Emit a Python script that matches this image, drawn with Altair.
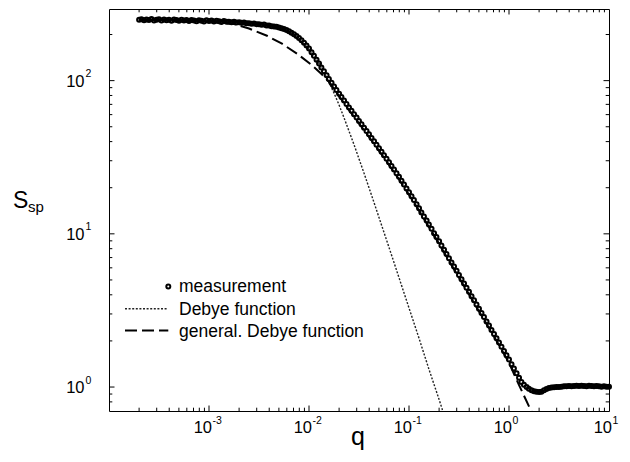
import altair as alt
import pandas as pd

FONT = "Liberation Sans"
W, H = 500, 402

# ---- measured structure factor S_sp(q), split by q range ----
q_low = [2.00e-4, 2.11e-4, 2.24e-4, 2.37e-4, 2.51e-4, 2.66e-4, 2.82e-4, 2.99e-4,
         3.16e-4, 3.35e-4, 3.55e-4, 3.76e-4, 3.98e-4, 4.22e-4, 4.47e-4, 4.73e-4,
         5.01e-4, 5.31e-4, 5.62e-4, 5.96e-4, 6.31e-4, 6.68e-4, 7.08e-4, 7.50e-4,
         7.94e-4, 8.41e-4, 8.91e-4, 9.44e-4, 1.00e-3, 1.06e-3, 1.12e-3, 1.19e-3,
         1.26e-3, 1.33e-3, 1.41e-3, 1.50e-3]
S_low = [250, 252, 248, 251, 249, 253, 247, 250, 252, 247, 251, 248, 250, 246, 251, 249,
         246, 250, 247, 249, 245, 249, 247, 244, 248, 246, 243, 248, 245, 247, 243, 246,
         244, 241, 245, 242]

q_knee = [1.58e-3, 1.68e-3, 1.78e-3, 1.88e-3, 2.00e-3, 2.11e-3, 2.24e-3, 2.37e-3,
          2.51e-3, 2.66e-3, 2.82e-3, 2.99e-3, 3.16e-3, 3.35e-3, 3.55e-3, 3.76e-3,
          3.98e-3, 4.22e-3, 4.47e-3, 4.73e-3, 5.01e-3, 5.31e-3, 5.62e-3, 5.96e-3,
          6.31e-3, 6.68e-3, 7.08e-3, 7.50e-3, 7.94e-3, 8.41e-3, 8.91e-3, 9.44e-3,
          1.00e-2, 1.06e-2, 1.12e-2, 1.19e-2, 1.26e-2, 1.33e-2, 1.41e-2, 1.50e-2]
S_knee = [242.1, 240.5, 242.0, 239.4, 240.9, 238.3, 239.5, 236.7, 237.1, 235.0,
          236.2, 233.4, 233.3, 231.3, 232.2, 229.1, 229.1, 226.5, 225.9, 224.4,
          222.3, 219.8, 217.3, 213.8, 209.9, 205.6, 200.9, 195.4, 189.7, 183.2,
          176.6, 169.4, 162.2, 153.5, 145.2, 137.1, 129.4, 121.9, 115.1, 108.4]

q_mid = [1.58e-2, 1.68e-2, 1.78e-2, 1.88e-2, 2.00e-2, 2.11e-2, 2.24e-2, 2.37e-2,
         2.51e-2, 2.66e-2, 2.82e-2, 2.99e-2, 3.16e-2, 3.35e-2, 3.55e-2, 3.76e-2,
         3.98e-2, 4.22e-2, 4.47e-2, 4.73e-2, 5.01e-2, 5.31e-2, 5.62e-2, 5.96e-2,
         6.31e-2, 6.68e-2, 7.08e-2, 7.50e-2, 7.94e-2, 8.41e-2, 8.91e-2, 9.44e-2,
         0.100, 0.106, 0.112, 0.119, 0.126, 0.133, 0.141, 0.150,
         0.158, 0.168, 0.178, 0.188, 0.200, 0.211, 0.224, 0.237,
         0.251, 0.266, 0.282, 0.299, 0.316, 0.335, 0.355, 0.376,
         0.398, 0.422, 0.447, 0.473, 0.501, 0.531, 0.562, 0.596,
         0.631, 0.668, 0.708, 0.750, 0.794, 0.841, 0.891, 0.944]
S_mid = [102.3, 96.8, 91.7, 86.9, 82.2, 78.1, 74.1, 70.4, 66.8, 63.5,
         60.4, 57.4, 54.6, 51.9, 49.3, 46.9, 44.6, 42.3, 40.2, 38.2,
         36.2, 34.4, 32.6, 30.9, 29.3, 27.7, 26.3, 24.9, 23.6, 22.2,
         21.0, 19.8, 18.7, 17.6, 16.6, 15.6, 14.7, 13.8, 13.0, 12.2,
         11.5, 10.8, 10.1, 9.52, 8.93, 8.39, 7.87, 7.39, 6.93, 6.51,
         6.11, 5.74, 5.38, 5.05, 4.74, 4.45, 4.18, 3.92, 3.68, 3.46,
         3.24, 3.04, 2.86, 2.68, 2.52, 2.36, 2.22, 2.08, 1.95, 1.83,
         1.72, 1.61]

q_high = [1.00, 1.06, 1.12, 1.19, 1.26, 1.33, 1.41, 1.50,
          1.58, 1.68, 1.78, 1.88, 2.00, 2.11, 2.24, 2.37,
          2.51, 2.66, 2.82, 2.99, 3.16, 3.35, 3.55, 3.76,
          3.98, 4.22, 4.47, 4.73, 5.01, 5.31, 5.62, 5.96,
          6.31, 6.68, 7.08, 7.50, 7.94, 8.41, 8.91, 9.44, 10.0]
S_high = [1.51, 1.41, 1.32, 1.23, 1.15, 1.08, 1.035, 1.00, 0.973, 0.953,
          0.940, 0.931, 0.927, 0.933, 0.951, 0.971, 0.986, 0.993, 0.998, 1.000,
          1.00, 1.005, 1.01, 1.01, 1.015, 1.01, 1.015, 1.02, 1.015, 1.02,
          1.015, 1.01, 1.02, 1.015, 1.01, 1.015, 1.01, 1.005, 1.01, 1.005, 1.005]

# ---- Debye function ----
debye_q = [2.00e-4, 5.01e-4, 1.00e-3, 1.78e-3, 3.16e-3, 3.98e-3, 5.01e-3, 6.31e-3,
           7.94e-3, 8.91e-3, 1.00e-2, 1.12e-2, 1.26e-2, 1.41e-2, 1.58e-2, 1.78e-2,
           2.00e-2, 2.24e-2, 2.51e-2, 2.82e-2, 3.16e-2, 3.55e-2, 3.98e-2, 4.47e-2,
           5.01e-2, 6.31e-2, 7.94e-2, 0.100, 0.126, 0.158, 0.200, 0.219]
debye_S = [250.0, 249.7, 248.7, 246.1, 237.9, 231.2, 221.1, 206.5,
           186.4, 173.9, 160.2, 145.2, 129.4, 113.4, 97.7, 82.9,
           69.3, 57.2, 46.9, 38.2, 30.9, 24.9, 20.0, 16.0,
           12.8, 8.16, 5.18, 3.28, 2.08, 1.31, 0.829, 0.689]

# ---- generalized Debye function ----
gen_q = [2.00e-4, 3.98e-4, 7.94e-4, 1.26e-3, 1.78e-3, 2.51e-3, 3.80e-3, 5.37e-3,
         7.59e-3, 1.07e-2, 1.35e-2, 1.62e-2, 2.00e-2, 2.51e-2, 3.16e-2, 3.98e-2,
         5.01e-2, 6.31e-2, 7.94e-2, 0.100, 0.126, 0.158, 0.200, 0.251,
         0.316, 0.398, 0.501, 0.631, 0.794, 1.00, 1.26, 1.58, 1.78]
gen_S = [250.0, 248.9, 246.0, 241.0, 233.9, 218.8, 196.3, 174.2,
         150.0, 126.2, 109.6, 96.6, 79.2, 64.3, 52.6, 42.9,
         34.9, 28.2, 22.7, 18.0, 14.2, 11.1, 8.60, 6.67,
         5.18, 4.03, 3.12, 2.43, 1.88, 1.44, 1.03, 0.750, 0.640]

# ---- axis ticks and labels ----
x_major = [1e-3, 1e-2, 1e-1, 1.0]
x_minor = [2e-4, 3e-4, 4e-4, 5e-4, 6e-4, 7e-4, 8e-4, 9e-4,
           2e-3, 3e-3, 4e-3, 5e-3, 6e-3, 7e-3, 8e-3, 9e-3,
           2e-2, 3e-2, 4e-2, 5e-2, 6e-2, 7e-2, 8e-2, 9e-2,
           0.2, 0.3, 0.4, 0.5, 0.6, 0.7, 0.8, 0.9,
           2, 3, 4, 5, 6, 7, 8, 9]
x_label_at = [1e-3, 1e-2, 1e-1, 1.0, 10.0]
x_label_exp = ["-3", "-2", "-1", "0", "1"]

y_major = [1.0, 10.0, 100.0]
y_minor = [0.8, 0.9, 2, 3, 4, 5, 6, 7, 8, 9,
           20, 30, 40, 50, 60, 70, 80, 90, 200]
y_label_at = [1.0, 10.0, 100.0]
y_label_exp = ["0", "1", "2"]

legend_labels = ["measurement", "Debye function", "general. Debye function"]

xscale = alt.Scale(type="log", domain=[1e-4, 10], nice=False)
yscale = alt.Scale(type="log", domain=[0.6975, 293.5], nice=False)

meas_df = pd.DataFrame({"q": q_low + q_knee + q_mid + q_high,
                        "S": S_low + S_knee + S_mid + S_high})
debye_df = pd.DataFrame({"q": debye_q, "S": debye_S})
gen_df = pd.DataFrame({"q": gen_q, "S": gen_S})

X = alt.X("q:Q", scale=xscale, axis=None)
Y = alt.Y("S:Q", scale=yscale, axis=None)

# open rings: overlapping neighbours merge into a solid band where dense
POINT_STYLE = dict(shape="circle", size=16, stroke="black", strokeWidth=2,
                   filled=False, opacity=1)

debye_line = alt.Chart(debye_df).mark_line(
    color="#222222", strokeWidth=1.4, strokeDash=[2, 1.6], clip=True
).encode(x=X, y=Y)

gen_line = alt.Chart(gen_df).mark_line(
    color="black", strokeWidth=2, strokeDash=[12, 5], clip=True
).encode(x=X, y=Y)

points = alt.Chart(meas_df).mark_point(**POINT_STYLE).encode(x=X, y=Y)

# inward-pointing ticks on all four sides
def xticks(vals, length):
    d = pd.DataFrame({"v": vals})
    xv = alt.X("v:Q", scale=xscale, axis=None)
    bottom = alt.Chart(d).mark_rule(color="black", strokeWidth=1).encode(
        x=xv, y=alt.value(H), y2=alt.value(H - length))
    top = alt.Chart(d).mark_rule(color="black", strokeWidth=1).encode(
        x=xv, y=alt.value(0), y2=alt.value(length))
    return [bottom, top]


def yticks(vals, length):
    d = pd.DataFrame({"v": vals})
    yv = alt.Y("v:Q", scale=yscale, axis=None)
    left = alt.Chart(d).mark_rule(color="black", strokeWidth=1).encode(
        y=yv, x=alt.value(0), x2=alt.value(length))
    right = alt.Chart(d).mark_rule(color="black", strokeWidth=1).encode(
        y=yv, x=alt.value(W), x2=alt.value(W - length))
    return [left, right]


ticks = xticks(x_major, 5.5) + xticks(x_minor, 3.3) + yticks(y_major, 5.5) + yticks(y_minor, 3.3)

# tick labels written as 10 with a raised exponent
xl_df = pd.DataFrame({"v": x_label_at, "e": x_label_exp})
x_base = alt.Chart(xl_df).mark_text(
    font=FONT, fontSize=16.5, align="right", baseline="alphabetic", dx=3
).encode(x=alt.X("v:Q", scale=xscale, axis=None), y=alt.value(H + 21.5),
         text=alt.value("10"))
x_exp = alt.Chart(xl_df).mark_text(
    font=FONT, fontSize=10.5, align="left", baseline="alphabetic", dx=3.5
).encode(x=alt.X("v:Q", scale=xscale, axis=None), y=alt.value(H + 12.5),
         text="e:N")

yl_df = pd.DataFrame({"v": y_label_at, "e": y_label_exp})
y_base = alt.Chart(yl_df).mark_text(
    font=FONT, fontSize=16.5, align="right", baseline="alphabetic", dy=6
).encode(y=alt.Y("v:Q", scale=yscale, axis=None), x=alt.value(-24.5),
         text=alt.value("10"))
y_exp = alt.Chart(yl_df).mark_text(
    font=FONT, fontSize=10.5, align="left", baseline="alphabetic", dy=-3.5
).encode(y=alt.Y("v:Q", scale=yscale, axis=None), x=alt.value(-23.5),
         text="e:N")

# axis titles
one = pd.DataFrame({"k": [0]})
x_title = alt.Chart(one).mark_text(
    font=FONT, fontSize=25, align="center", baseline="alphabetic"
).encode(x=alt.value(W / 2 - 1), y=alt.value(H + 34), text=alt.value("q"))
y_title = alt.Chart(one).mark_text(
    font=FONT, fontSize=23, align="left", baseline="alphabetic"
).encode(x=alt.value(-96), y=alt.value(199), text=alt.value("S"))
y_title_sub = alt.Chart(one).mark_text(
    font=FONT, fontSize=15, align="left", baseline="alphabetic"
).encode(x=alt.value(-81), y=alt.value(202.7), text=alt.value("sp"))

# legend in the lower left of the plot
leg_df = pd.DataFrame({"label": legend_labels, "row": [0, 1, 2]})
leg_text = alt.Chart(leg_df).mark_text(
    font=FONT, fontSize=17.5, align="left", baseline="alphabetic"
).encode(x=alt.value(70),
         y=alt.Y("row:Q", scale=alt.Scale(domain=[0, 2], range=[283, 328]), axis=None),
         text="label:N")
leg_point = alt.Chart(one).mark_point(**POINT_STYLE).encode(
    x=alt.value(59.3), y=alt.value(277.4))
leg_dot = alt.Chart(one).mark_rule(
    color="#222222", strokeWidth=1.4, strokeDash=[2, 1.6]
).encode(x=alt.value(16), x2=alt.value(57.7), y=alt.value(299.7))
leg_dash = alt.Chart(one).mark_rule(
    color="black", strokeWidth=2, strokeDash=[12, 5]
).encode(x=alt.value(16), x2=alt.value(59.3), y=alt.value(321.4))

chart = alt.layer(
    debye_line, gen_line, points, *ticks,
    x_base, x_exp, y_base, y_exp, x_title, y_title, y_title_sub,
    leg_text, leg_point, leg_dot, leg_dash
).resolve_scale(y="independent").properties(
    width=W, height=H, autosize="none",
    padding={"left": 109, "top": 9, "right": 21, "bottom": 51},
    background="white"
).configure_view(stroke="black", strokeWidth=1)

chart.save("out.html", embed_options={"renderer": "svg", "actions": False})
